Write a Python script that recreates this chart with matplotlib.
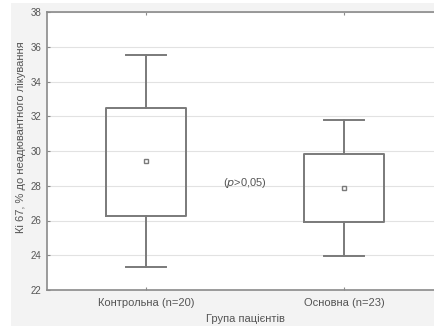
import matplotlib.pyplot as plt
from matplotlib.patches import Rectangle

plt.rcParams['font.family'] = ['Liberation Sans', 'DejaVu Sans']

groups = ["Контрольна (n=20)", "Основна (n=23)"]
means = [29.4, 27.85]
box_low = [26.25, 25.9]
box_high = [32.5, 29.85]
whisker_low = [23.3, 23.95]
whisker_high = [35.5, 31.8]

line_col = '#7a7a7a'
text_col = '#555555'

fig = plt.figure(figsize=(4.34, 3.29), dpi=100, facecolor='white')
fig.patches.append(Rectangle((11 / 434, 0.01), 1, 0.98, transform=fig.transFigure,
                             facecolor='#f3f3f3', edgecolor='none', zorder=-10))
ax = fig.add_axes([47 / 434, 39 / 329, 396 / 434, 278 / 329])
ax.set_facecolor('white')

stats = []
for i in range(len(groups)):
    stats.append({'med': means[i], 'q1': box_low[i], 'q3': box_high[i],
                  'whislo': whisker_low[i], 'whishi': whisker_high[i],
                  'mean': means[i], 'fliers': []})

ax.bxp(stats, positions=[1, 2], widths=0.4, showmeans=True, showcaps=True,
       boxprops=dict(color=line_col, linewidth=1.4),
       whiskerprops=dict(color=line_col, linewidth=1.4),
       capprops=dict(color=line_col, linewidth=1.4),
       medianprops=dict(linewidth=0),
       meanprops=dict(marker='s', markersize=3.5, markerfacecolor='white',
                      markeredgecolor=line_col, markeredgewidth=1.0),
       manage_ticks=False)

ax.text(1.5, 28.15, r'($\it{p}$>0,05)', ha='center', va='center', fontsize=8, color=text_col)

ax.set_xlim(0.5, 2.5)
ax.set_ylim(22, 38)
ax.set_xticks([1, 2])
ax.set_xticklabels(groups)
ax.set_yticks(range(22, 39, 2))
ax.grid(axis='y', color='#e2e2e2', linewidth=0.8)
ax.set_axisbelow(True)

for side in ['left', 'bottom', 'top']:
    ax.spines[side].set_color('#8a8a8a')
    ax.spines[side].set_linewidth(1.2)
ax.spines['right'].set_visible(False)

ax.tick_params(axis='both', colors='#8a8a8a', labelcolor=text_col, length=2, width=0.8)
ax.tick_params(axis='x', labelsize=8, top=True, direction='in', pad=6)
ax.tick_params(axis='y', labelsize=7, direction='in', pad=4)

ax.set_xlabel("Група пацієнтів", fontsize=8, color=text_col, labelpad=4)
ax.set_ylabel("Кі 67, % до неадювантного лікування", fontsize=8, color=text_col)
ax.yaxis.set_label_coords(-0.052, 0.55)

fig.savefig('out.png', dpi=100)
